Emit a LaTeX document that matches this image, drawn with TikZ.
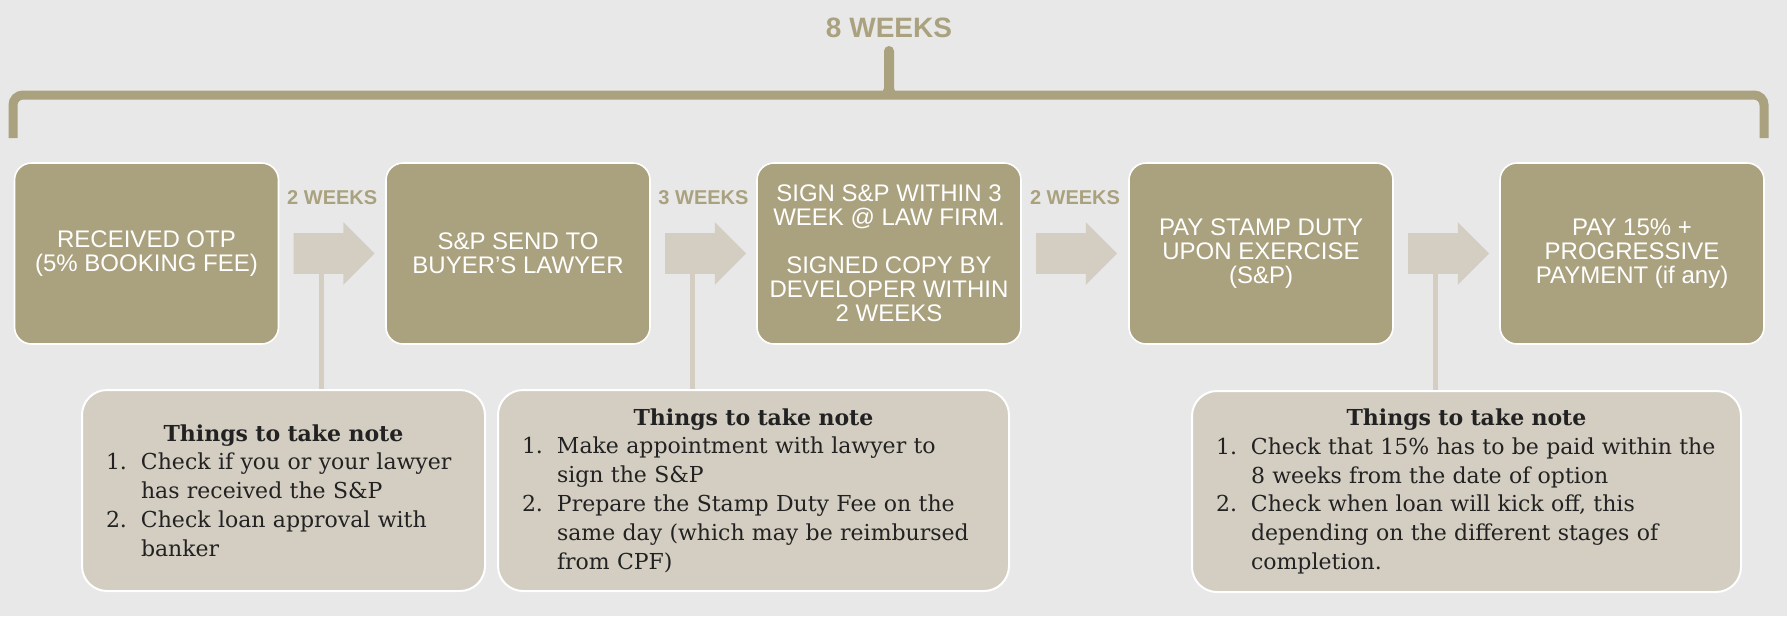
\documentclass[tikz,border=0pt]{standalone}
\usepackage{fontspec}
\setmainfont{Liberation Sans}
\newfontfamily\notefont{DejaVu Serif}
\usetikzlibrary{calc, shapes.arrows}
\definecolor{olv}{RGB}{170,161,126}
\definecolor{snd}{RGB}{212,206,194}
\definecolor{bgr}{RGB}{232,232,232}
\definecolor{ink}{RGB}{34,34,34}
\newcommand\notehead{{\centering\bfseries Things to take note\par}}
\newcommand\noteit[2]{\hangindent=17.5pt\hangafter=1\noindent\makebox[17.5pt][l]{#1}#2\par}
\tikzset{%
    stp/.style={rectangle, rounded corners=8.5pt, fill=olv, draw=white, line width=0.8pt, minimum width=132pt, minimum height=90.5pt, inner sep=0pt, text=white, align=center, font=\fontsize{12}{12}\selectfont},
    nte/.style={rectangle, rounded corners=12.5pt, fill=snd, draw=white, line width=1pt, minimum height=100.5pt, inner xsep=12pt, inner ysep=0pt, text=ink, align=left, font=\notefont\fontsize{11}{14.4}\selectfont},
    wks/.style={text=olv, font=\bfseries\fontsize{10}{10}\selectfont, inner sep=0pt},
    arw/.style={single arrow, anchor=tail, fill=snd, draw=none, minimum height=40.5pt, inner xsep=0pt, inner ysep=10pt, single arrow head extend=5.5pt, single arrow tip angle=90},
    lnk/.style={draw=snd, line width=2.5pt},
    brc/.style={draw=olv, line width=4.5pt, rounded corners=5pt},
}
\begin{document}
\begin{tikzpicture}[x=0.5pt, y=-0.5pt]
    \useasboundingbox (0,0) rectangle (1787,616);
    \fill[bgr] (0,0) rectangle (1787,616);
    \node[text=olv, inner sep=0pt, font=\bfseries\fontsize{14}{14}\selectfont] (ttl) at (889,28) {8 WEEKS};
    \coordinate (bl) at (13,138);
    \coordinate (br) at (1764,138);
    \coordinate (bt) at (889,51);
    \draw[brc] (bl) |- (876,95) .. controls (886,95) and (888.5,90) .. (888.5,78) -- (888.5,51);
    \draw[brc] (br) |- (902,95) .. controls (892,95) and (889.5,90) .. (889.5,78) -- (889.5,51);
    \fill[olv] (bt) circle (2.5pt);
    \node[stp] (s1) at (146.5,253.5) {RECEIVED OTP\\(5\% BOOKING FEE)};
    \node[stp] (s2) at (518,253.5) {S\&P SEND TO\\BUYER'S LAWYER};
    \node[stp] (s3) at (889,253.5) {SIGN S\&P WITHIN 3\\WEEK @ LAW FIRM.\\[12pt]SIGNED COPY BY\\DEVELOPER WITHIN\\2 WEEKS};
    \node[stp] (s4) at (1261,253.5) {PAY STAMP DUTY\\UPON EXERCISE\\(S\&P)};
    \node[stp] (s5) at (1632,253.5) {PAY 15\% +\\PROGRESSIVE\\PAYMENT (if any)};
    \node[arw] (a1) at ($(s1.east)+(14,0)$) {};
    \node[arw] (a2) at ($(s2.east)+(14,0)$) {};
    \node[arw] (a3) at ($(s3.east)+(14,0)$) {};
    \node[arw] (a4) at ($(s4.east)+(14,0)$) {};
    \node[wks] (w1) at ($(s1.east)!0.5!(s2.west)+(0,-56)$) {2 WEEKS};
    \node[wks] (w2) at ($(s2.east)!0.5!(s3.west)+(0,-56)$) {3 WEEKS};
    \node[wks] (w3) at ($(s3.east)!0.5!(s4.west)+(0,-56)$) {2 WEEKS};
    \node[nte, text width=177.5pt] (n1) at (283.5,490.5) {\notehead
        \noteit{1.}{Check if you or your lawyer\newline has received the S\&P}
        \noteit{2.}{Check loan approval with\newline banker}};
    \node[nte, text width=231.5pt] (n2) at (753.5,490.5) {\notehead
        \noteit{1.}{Make appointment with lawyer to\newline sign the S\&P}
        \noteit{2.}{Prepare the Stamp Duty Fee on the\newline same day (which may be reimbursed\newline from CPF)}};
    \node[nte, text width=250.5pt] (n3) at (1466.5,491.5) {\notehead
        \noteit{1.}{Check that 15\% has to be paid within the\newline 8 weeks from the date of option}
        \noteit{2.}{Check when loan will kick off, this\newline depending on the different stages of\newline completion.}};
    \coordinate (k1) at ($(a1.tail)+(28,0)$);
    \coordinate (k2) at ($(a2.tail)+(28,0)$);
    \coordinate (k4) at ($(a4.tail)+(28,0)$);
    \draw[lnk] (k1) -- (k1 |- n1.north);
    \draw[lnk] (k2) -- (k2 |- n2.north);
    \draw[lnk] (k4) -- (k4 |- n3.north);
\end{tikzpicture}
\end{document}
